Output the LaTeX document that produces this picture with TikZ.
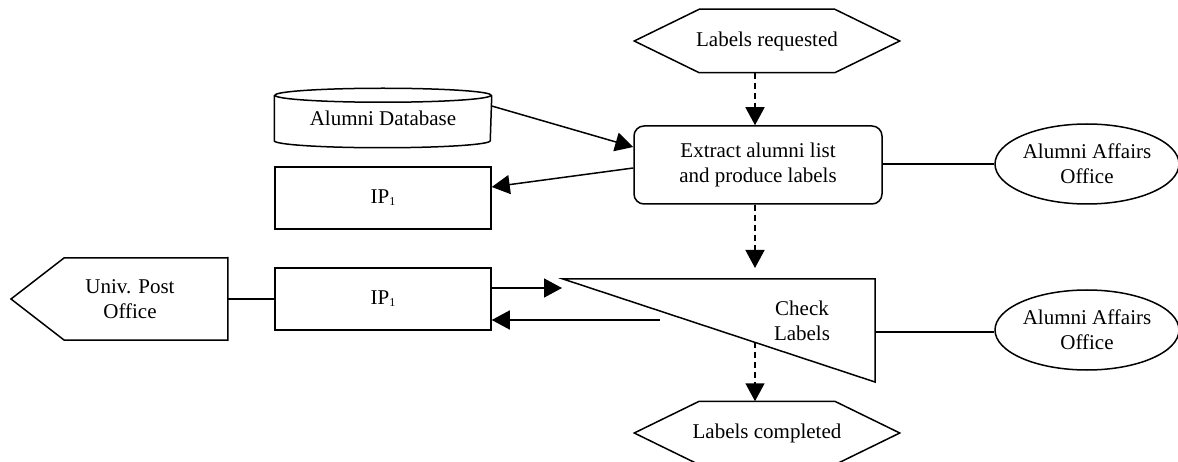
\documentclass[tikz,border=0pt]{standalone}
\usepackage{fontspec}
\setmainfont{Liberation Serif}
\usetikzlibrary{arrows.meta, shapes.geometric}
\tikzset{>={Triangle[length=18pt, width=19pt]}}
\newcommand{\ipsub}{IP\raisebox{-2pt}{\fontsize{12}{12}\selectfont 1}}

\begin{document}
\begin{tikzpicture}[x=1pt, y=-1pt, line width=1.5pt,
	every node/.style={font=\fontsize{21}{25}\selectfont, align=center, inner sep=0pt},
	box/.style={draw, minimum width=216, minimum height=62},
	proc/.style={draw, rounded corners=10pt, minimum width=248, minimum height=78},
	ext/.style={draw, ellipse, minimum width=184, minimum height=80},
	hexa/.style={minimum width=264, minimum height=62},
	flow/.style={->, dash pattern=on 6pt off 4pt}]
	\useasboundingbox (0,0) rectangle (1178,462);
	% nodes
	\node[hexa] (req) at (767,41) {Labels requested};
	\node (db) [minimum width=216, minimum height=58] at (383,118) {Alumni Database};
	\node[box] (ip1) at (383,198) {\ipsub};
	\node[proc] (extract) at (758,165) {Extract alumni list\\and produce labels};
	\node[ext] (aff1) at (1087,164) {Alumni Affairs\\Office};
	\node (upo) [minimum width=194, minimum height=81] at (130,299) {Univ. Post\\Office};
	\node[box] (ip2) at (383,299) {\ipsub};
	\node (chk) at (802,321) {Check\\Labels};
	\node[ext] (aff2) at (1087,330) {Alumni Affairs\\Office};
	\node[hexa] (done) at (767,433) {Labels completed};
	% points
	\coordinate (spine) at (755,0);
	\coordinate (chkA) at (563,279);
	\coordinate (chkB) at (875,279);
	\coordinate (chkC) at (875,382);
	\coordinate (chkin) at (755,268);
	\coordinate (chkout) at (755,342);
	\coordinate (chkleft) at (562,288);
	\coordinate (chkret) at (660,320);
	\coordinate (chkright) at (875,332);
	% shapes
	\foreach \n in {req,done}
	\draw (\n.west) -- ([xshift=65]\n.north west) -- ([xshift=-65]\n.north east) -- (\n.east) -- ([xshift=-65]\n.south east) -- ([xshift=65]\n.south west) -- cycle;
	\draw ([yshift=-7]db.north) ellipse [x radius=108pt, y radius=7pt];
	\draw ([yshift=-7]db.north west) -- ([yshift=7]db.south west) arc [start angle=180, end angle=360, x radius=108pt, y radius=7pt] -- ([yshift=-7]db.north east);
	\draw (11,299) -- (64,258) -- (upo.north east) -- (upo.south east) -- (64,340) -- cycle;
	\draw (chkA) -- (chkB) -- (chkC) -- cycle;
	% connectors
	\draw[flow] (req.south -| spine) -- (extract.north -| spine);
	\draw[flow] (extract.south -| spine) -- (chkin);
	\draw[flow] (chkout) -- (done.north -| spine);
	\draw[->] ([yshift=12]db.east) -- ([yshift=18]extract.west);
	\draw[->] ([yshift=-3]extract.west) -- ([yshift=11]ip1.east);
	\draw (aff1.west -| extract.east) -- (aff1.west);
	\draw (upo.east) -- (ip2.west);
	\draw[->] ([yshift=11]ip2.east) -- (chkleft);
	\draw[->] (chkret) -- (chkret -| ip2.east);
	\draw (chkright) -- (chkright -| aff2.west);
\end{tikzpicture}
\end{document}
